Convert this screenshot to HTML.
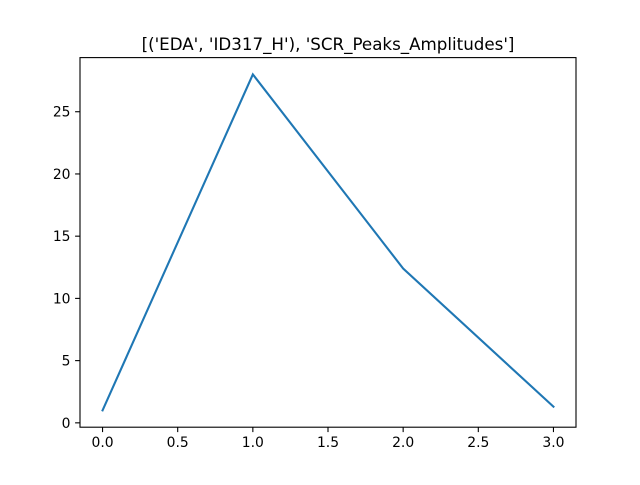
<!DOCTYPE html>
<html><head><meta charset="utf-8">
<style>
body{margin:0;background:#fff;}
svg text{font-family:"DejaVu Sans","Liberation Sans",sans-serif;}
</style></head>
<body>
<svg id="chart" width="640" height="480" xmlns="http://www.w3.org/2000/svg">
<rect width="640" height="480" fill="#fff"/>
<text x="328" y="50" font-size="16.7" text-anchor="middle">[('EDA', 'ID317_H'), 'SCR_Peaks_Amplitudes']</text>
<g id="ticks"></g>
<polyline id="line" fill="none" stroke="#1f77b4" stroke-width="2.1" stroke-linecap="square"/>
<rect x="80" y="57.6" width="496" height="369.6" fill="none" stroke="#000" stroke-width="1.1"/>
</svg>
<script>
const xValues=[0,1,2,3];
const yValues=[1.0,28.0,12.4,1.3];
const xTicks=[0,0.5,1,1.5,2,2.5,3];
const xTickLabels=["0.0","0.5","1.0","1.5","2.0","2.5","3.0"];
const yTicks=[0,5,10,15,20,25];
const yTickLabels=["0","5","10","15","20","25"];
const L=80,R=576,T=57.6,B=427.2;
const xmin=-0.15,xmax=3.15;
const ymn=Math.min(...yValues),ymx=Math.max(...yValues),pad=(ymx-ymn)*0.05;
const ymin=ymn-pad,ymax=ymx+pad;
const sx=v=>L+(v-xmin)/(xmax-xmin)*(R-L);
const sy=v=>B-(v-ymin)/(ymax-ymin)*(B-T);
const ns="http://www.w3.org/2000/svg";
const g=document.getElementById('ticks');
function mk(tag,attrs){const e=document.createElementNS(ns,tag);for(const k in attrs)e.setAttribute(k,attrs[k]);return e;}
xTicks.forEach((t,i)=>{
  const x=sx(t);
  const l=mk('line',{x1:x,x2:x,y1:B,y2:B+4.9,stroke:'#000','stroke-width':1.1});
  
  
  g.appendChild(l);
  const tx=mk('text',{x:x,y:B+20,'font-size':13.9,'text-anchor':'middle'});
  
  
  tx.textContent=xTickLabels[i];g.appendChild(tx);
});
yTicks.forEach((t,i)=>{
  const y=sy(t);
  const l=mk('line',{x1:L-4.9,x2:L,y1:y,y2:y,stroke:'#000','stroke-width':1.1});
  
  
  g.appendChild(l);
  const tx=mk('text',{x:L-9.5,y:y+5,'font-size':13.9,'text-anchor':'end'});
  
  
  tx.textContent=yTickLabels[i];g.appendChild(tx);
});
document.getElementById('line').setAttribute('points',xValues.map((x,i)=>sx(x)+','+sy(yValues[i])).join(' '));
</script>
</body></html>
